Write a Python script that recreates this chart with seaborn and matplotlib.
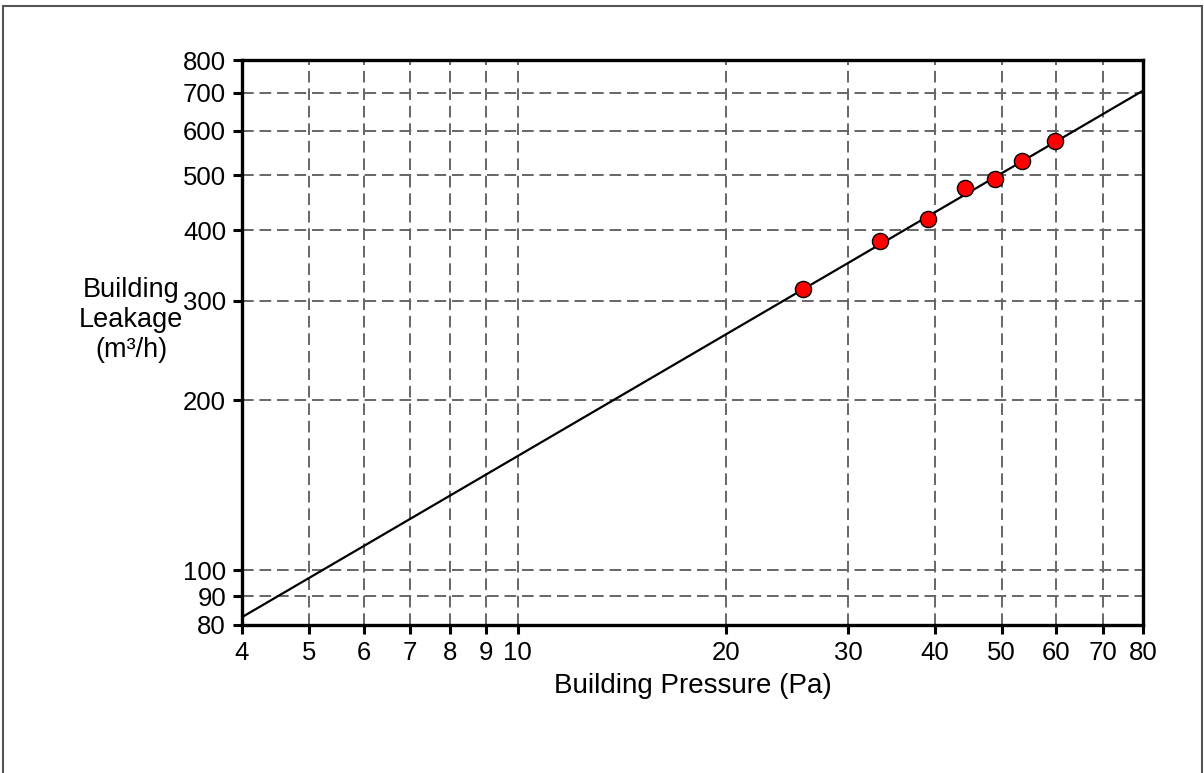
import numpy as np
import matplotlib
matplotlib.use("Agg")
import matplotlib.pyplot as plt
import seaborn as sb
from matplotlib.ticker import FixedLocator, NullLocator, FixedFormatter
from matplotlib.patches import Rectangle

# measured points
pressure = [25.8, 33.4, 39.2, 44.3, 48.9, 53.5, 59.7]
leakage = [314, 383, 419, 474, 492, 530, 576]

# fitted line end points (straight on log-log)
fit_x = [4, 80]
fit_y = [82.6, 706]

x_ticks = [4, 5, 6, 7, 8, 9, 10, 20, 30, 40, 50, 60, 70, 80]
y_ticks = [80, 90, 100, 200, 300, 400, 500, 600, 700, 800]


def main():
    sb.set_style("white")
    plt.rcParams['font.family'] = ['Liberation Sans', 'DejaVu Sans']
    plt.rcParams['text.color'] = 'black'
    plt.rcParams['axes.labelcolor'] = 'black'

    fig = plt.figure(figsize=(12.04, 7.73), dpi=100)
    ax = fig.add_axes([242 / 1204, 148 / 773, 901 / 1204, 565 / 773])
    ax.set_xscale("log")
    ax.set_yscale("log")

    sb.lineplot(x=fit_x, y=fit_y, ax=ax, color="black", linewidth=1.6, zorder=3)
    sb.scatterplot(x=pressure, y=leakage, ax=ax, color="red", edgecolor="black",
                   linewidth=1.0, s=135, zorder=4)

    ax.set_xlim(4, 80)
    ax.set_ylim(80, 800)

    ax.xaxis.set_major_locator(FixedLocator(x_ticks))
    ax.xaxis.set_major_formatter(FixedFormatter([str(v) for v in x_ticks]))
    ax.xaxis.set_minor_locator(NullLocator())
    ax.yaxis.set_major_locator(FixedLocator(y_ticks))
    ax.yaxis.set_major_formatter(FixedFormatter([str(v) for v in y_ticks]))
    ax.yaxis.set_minor_locator(NullLocator())

    ax.grid(True, which="major", color="#666666", linestyle=(0, (6, 3)), linewidth=1.4)
    ax.tick_params(axis="both", which="major", direction="out", length=6.5, width=2.2,
                   labelsize=18.5, colors="black")
    ax.tick_params(axis="x", pad=5)
    ax.tick_params(axis="y", pad=5)
    ax.tick_params(axis="both", bottom=True, left=True)
    for s in ax.spines.values():
        s.set_color("black")
        s.set_linewidth(2.4)
        s.set_visible(True)

    ax.set_xlabel("Building Pressure (Pa)", fontsize=20, labelpad=6)
    fig.text(131 / 1204, 1 - 320 / 773, "Building\nLeakage\n(m³/h)", fontsize=19.5,
             ha="center", va="center", multialignment="center", linespacing=1.2)

    fig.patches.append(Rectangle((3 / 1204, -0.1), 1199 / 1204, 1 - 6 / 773 + 0.1,
                                 transform=fig.transFigure, fill=False,
                                 edgecolor="#555555", linewidth=1.5))

    fig.savefig("out.png", dpi=100)


if __name__ == "__main__":
    main()
